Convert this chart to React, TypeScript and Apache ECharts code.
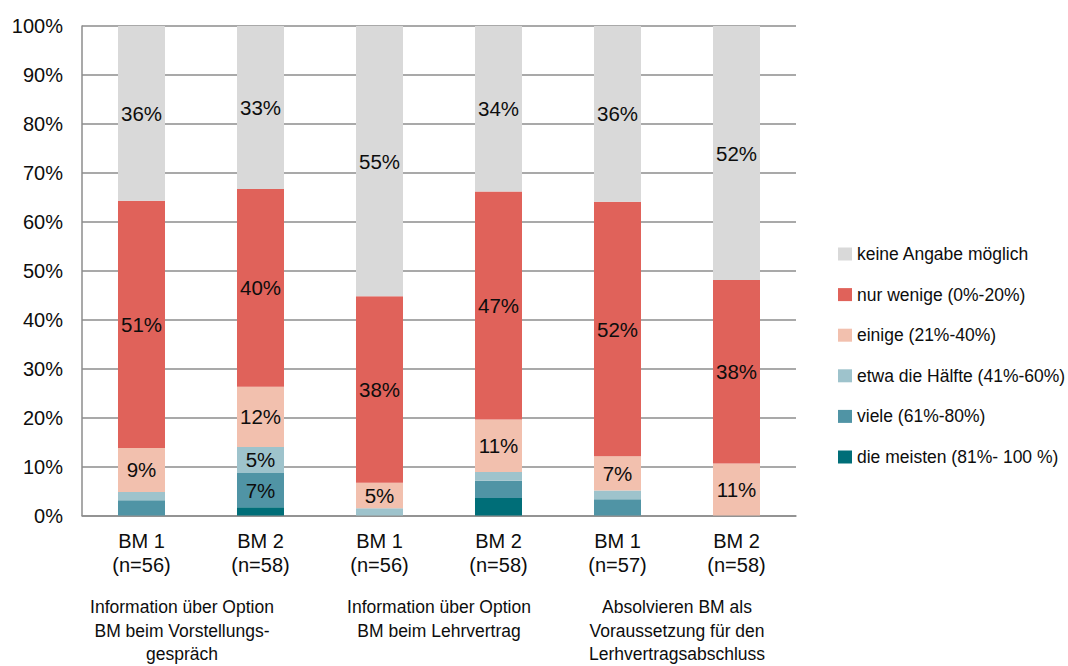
import React, { useEffect, useRef } from "react";
import * as echarts from "echarts";

const categories = ["BM 1\n(n=56)", "BM 2\n(n=58)", "BM 1\n(n=56)", "BM 2\n(n=58)", "BM 1\n(n=57)", "BM 2\n(n=58)"];
const groups = [
  "Information über Option\nBM beim Vorstellungs-\ngespräch",
  "Information über Option\nBM beim Lehrvertrag",
  "Absolvieren BM als\nVoraussetzung für den\nLerhvertragsabschluss",
];
const yTicks = [0, 10, 20, 30, 40, 50, 60, 70, 80, 90, 100];

const meisten = [0, 1.7, 0, 3.6, 0, 0];
const viele = [3.1, 7.0, 0, 3.5, 3.3, 0];
const etwa = [1.7, 5.3, 1.5, 1.8, 1.8, 0];
const einige = [9.0, 12.3, 5.2, 10.7, 7.0, 10.6];
const wenige = [50.5, 40.4, 38.1, 46.6, 52.0, 37.5];
const keine = [35.7, 33.3, 55.2, 33.8, 35.9, 51.9];

const seriesDefs = [
  { name: "die meisten (81%- 100 %)", data: meisten, color: "#006E78" },
  { name: "viele (61%-80%)", data: viele, color: "#5094A5" },
  { name: "etwa die Hälfte (41%-60%)", data: etwa, color: "#9EC3CC" },
  { name: "einige (21%-40%)", data: einige, color: "#F2C0AE" },
  { name: "nur wenige (0%-20%)", data: wenige, color: "#E0625A" },
  { name: "keine Angabe möglich", data: keine, color: "#D9D9D9" },
];

const FONT = "'Liberation Sans', Arial, sans-serif";
const TXT = "#0d0d0d";

export default function App() {
  const ref = useRef<HTMLDivElement>(null);
  useEffect(() => {
    if (!ref.current) return;
    const chart = echarts.init(ref.current, undefined, { renderer: "svg" });
    chart.setOption({
      animation: false,
      textStyle: { fontFamily: FONT },
      grid: { left: 82, right: 272, top: 26, bottom: 148, containLabel: false },
      legend: {
        orient: "vertical",
        left: 838,
        top: 244,
        padding: 0,
        itemWidth: 14,
        itemHeight: 13,
        itemGap: 20.6,
        icon: "rect",
        data: seriesDefs.map((s) => s.name).reverse(),
        textStyle: { fontSize: 17.5, color: TXT, fontFamily: FONT, lineHeight: 20 },
      },
      xAxis: [
        {
          type: "category",
          data: categories,
          position: "bottom",
          axisLine: { show: true, lineStyle: { color: "#8c8c8c", width: 1.5 } },
          axisTick: { show: false },
          axisLabel: {
            fontSize: 20,
            color: TXT,
            lineHeight: 23.5,
            margin: 14,
            interval: 0,
            fontFamily: FONT,
          },
        },
        {
          type: "category",
          data: [
            { value: groups[0], textStyle: { padding: [0, 38, 0, 0] } },
            groups[1],
            groups[2],
          ],
          position: "bottom",
          gridIndex: 0,
          axisLine: { show: false },
          axisTick: { show: false },
          splitLine: { show: false },
          axisLabel: {
            fontSize: 17.5,
            color: TXT,
            lineHeight: 23.5,
            margin: 80,
            interval: 0,
            fontFamily: FONT,
          },
        },
      ],
      yAxis: {
        type: "value",
        min: yTicks[0],
        max: yTicks[yTicks.length - 1],
        interval: 10,
        axisLine: { show: true, lineStyle: { color: "#8c8c8c", width: 1.5 } },
        axisTick: { show: false },
        splitLine: { show: true, lineStyle: { color: "#8c8c8c", width: 1.5 } },
        axisLabel: {
          formatter: "{value}%",
          fontSize: 20,
          color: TXT,
          margin: 19,
          fontFamily: FONT,
        },
      },
      series: seriesDefs.map((s) => ({
        name: s.name,
        type: "bar",
        stack: "total",
        xAxisIndex: 0,
        barWidth: "39.5%",
        data: s.data,
        itemStyle: { color: s.color },
        label: {
          show: true,
          position: "inside",
          fontSize: 20.5,
          color: TXT,
          fontFamily: FONT,
          formatter: (p: any) => (p.value >= 4.5 ? Math.round(p.value) + "%" : ""),
        },
      })),
    });
    return () => chart.dispose();
  }, []);
  return <div ref={ref} style={{ width: 1068, height: 666, position: "absolute", left: 0, top: 0 }} />;
}
